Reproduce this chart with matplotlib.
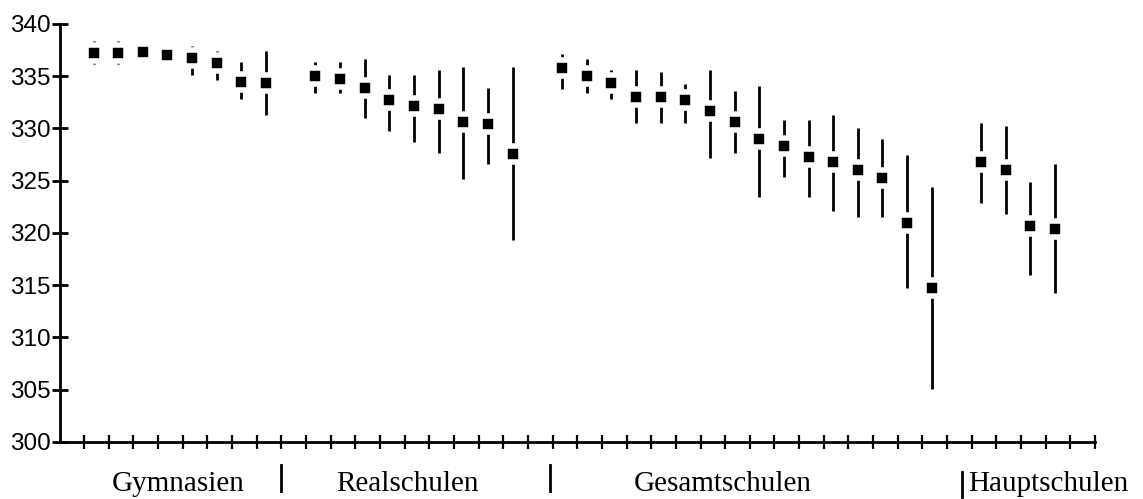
import matplotlib
matplotlib.use('Agg')
import matplotlib.pyplot as plt
import matplotlib.transforms as mtransforms

# Daten
gruppen = ['Gymnasien', 'Realschulen', 'Gesamtschulen', 'Hauptschulen']
anzahl = [8, 9, 16, 4]

mittel = [
    337.2, 337.2, 337.3, 337.0, 336.75, 336.25, 334.45, 334.35,
    335.0, 334.75, 333.85, 332.7, 332.2, 331.9, 330.65, 330.4, 327.6,
    335.75, 335.0, 334.35, 333.05, 333.05, 332.7, 331.65, 330.6,
    328.95, 328.35, 327.3, 326.8, 326.05, 325.3, 320.95, 314.7,
    326.8, 326.05, 320.65, 320.4,
]
oben = [
    338.4, 338.4, 337.9, 337.9, 337.9, 337.4, 336.4, 337.4,
    336.4, 336.4, 336.65, 335.1, 335.1, 335.6, 335.85, 333.85, 335.85,
    337.15, 336.65, 335.6, 335.6, 335.4, 334.3, 335.6, 333.6,
    334.05, 330.8, 330.8, 331.3, 330.0, 328.95, 327.45, 324.4,
    330.5, 330.25, 324.9, 326.65,
]
unten = [
    336.15, 336.15, 336.4, 336.15, 335.1, 334.6, 332.8, 331.3,
    333.4, 333.4, 331.05, 329.75, 328.75, 327.7, 325.15, 326.65, 319.3,
    333.8, 333.35, 332.8, 330.5, 330.5, 330.5, 327.2, 327.7,
    323.4, 325.4, 323.4, 322.1, 321.55, 321.55, 314.7, 305.05,
    322.85, 321.85, 316.0, 314.25,
]

# Positionen der Punkte: Gruppen durch je einen leeren Platz getrennt
positionen = []
start = 1
for n in anzahl:
    positionen += [start + i + 0.38 for i in range(n)]
    start += n + 1

fig = plt.figure(figsize=(11.43, 4.99), dpi=100)
ax = fig.add_axes([59.5 / 1143, 57 / 499, 1035.5 / 1143, 418 / 499])

ax.vlines(positionen, unten, oben, color='black', linewidth=2.0, zorder=2)
ax.plot(positionen, mittel, linestyle='none', marker='s', markersize=11.8,
        markerfacecolor='black', markeredgecolor='white', markeredgewidth=4.0, zorder=3)

ax.set_xlim(0, 42)
ax.set_ylim(300, 340)
ax.set_xticks(range(1, 43))
ax.set_xticklabels([])
ax.set_yticks(range(300, 341, 5))
ax.set_yticklabels([str(v) for v in range(300, 341, 5)], fontsize=17.5,
                   family=['Liberation Sans', 'DejaVu Sans'])

for s in ['top', 'right']:
    ax.spines[s].set_visible(False)
for s in ['left', 'bottom']:
    ax.spines[s].set_linewidth(2.0)
ax.tick_params(axis='y', direction='inout', length=11, width=2.0, pad=1)
ax.tick_params(axis='x', direction='inout', length=9.5, width=1.6)

# Gruppenbeschriftungen
trans = mtransforms.blended_transform_factory(ax.transData, fig.transFigure)
label_x = [4.8, 14.1, 26.9, 40.1]
for name, lx in zip(gruppen, label_x):
    fig.text(lx, 1 - 491 / 499, name, transform=trans, ha='center', va='baseline',
             fontsize=21, family=['Liberation Serif', 'DejaVu Serif'])

trenner_x = [9.0, 19.9, 36.6]
trenner_y = [(465, 491), (465, 491), (472, 497)]
for tx, (y0, y1) in zip(trenner_x, trenner_y):
    ax.plot([tx, tx], [1 - y0 / 499, 1 - y1 / 499], color='black', linewidth=2.0,
            transform=trans, clip_on=False)

fig.savefig('out.png', dpi=100)
